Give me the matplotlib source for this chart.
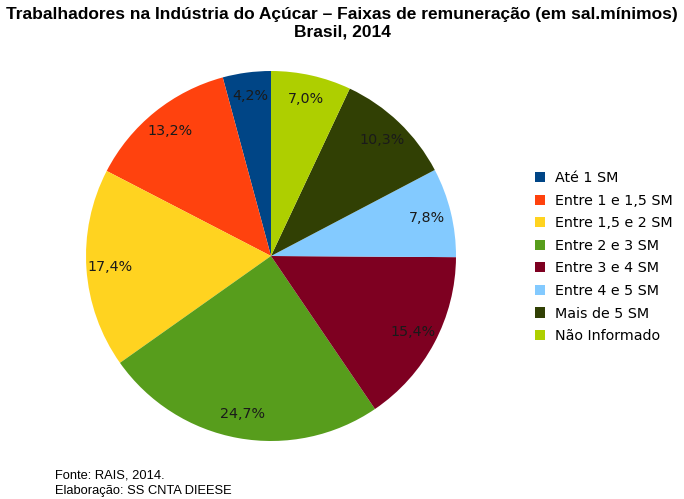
import matplotlib.pyplot as plt
from matplotlib.patches import Patch

# Data
categories = ["Até 1 SM", "Entre 1 e 1,5 SM", "Entre 1,5 e 2 SM", "Entre 2 e 3 SM",
              "Entre 3 e 4 SM", "Entre 4 e 5 SM", "Mais de 5 SM", "Não Informado"]
values = [4.2, 13.2, 17.4, 24.7, 15.4, 7.8, 10.3, 7.0]
colors = ["#004586", "#ff420e", "#ffd320", "#579d1c",
          "#7e0021", "#83caff", "#314004", "#aecf00"]

W, H = 684, 499
fig = plt.figure(figsize=(W / 100, H / 100), dpi=100)

# pie axes: center (271, 256), radius 185 px
cx, cy, r = 271, 256, 185
ax = fig.add_axes([(cx - r) / W, (H - cy - r) / H, 2 * r / W, 2 * r / H])
wedges, texts, autotexts = ax.pie(
    values, colors=colors, startangle=90, counterclock=True,
    autopct=lambda p: f"{p:.1f}%".replace(".", ","), pctdistance=0.87,
    wedgeprops=dict(linewidth=0),
    textprops=dict(fontsize=10.3, color="#1a1a1a", family="DejaVu Sans"))
ax.set_xlim(-1, 1)
ax.set_ylim(-1, 1)
ax.set_aspect("equal")

# title
fig.text(0.5, 1 - 15 / H, "Trabalhadores na Indústria do Açúcar – Faixas de remuneração (em sal.mínimos)",
         ha="center", va="center", fontsize=12.5, fontweight="bold", family="Liberation Sans")
fig.text(0.5, 1 - 32 / H, "Brasil, 2014",
         ha="center", va="center", fontsize=12.5, fontweight="bold", family="Liberation Sans")

# legend
handles = [Patch(facecolor=c, edgecolor="none") for c in colors]
leg = fig.legend(handles, categories, loc="upper left",
                 bbox_to_anchor=(535 / W, 1 - 171 / H), frameon=False,
                 handlelength=0.7, handleheight=0.7, handletextpad=0.7,
                 labelspacing=0.6, borderaxespad=0, borderpad=0,
                 prop=dict(family="DejaVu Sans", size=10.3))

# footer
fig.text(55 / W, 1 - 476 / H, "Fonte: RAIS, 2014.", ha="left", va="center",
         fontsize=9.3, family="Liberation Sans")
fig.text(55 / W, 1 - 491 / H, "Elaboração: SS CNTA DIEESE", ha="left", va="center",
         fontsize=9.3, family="Liberation Sans")

fig.savefig("out.png", dpi=100)
